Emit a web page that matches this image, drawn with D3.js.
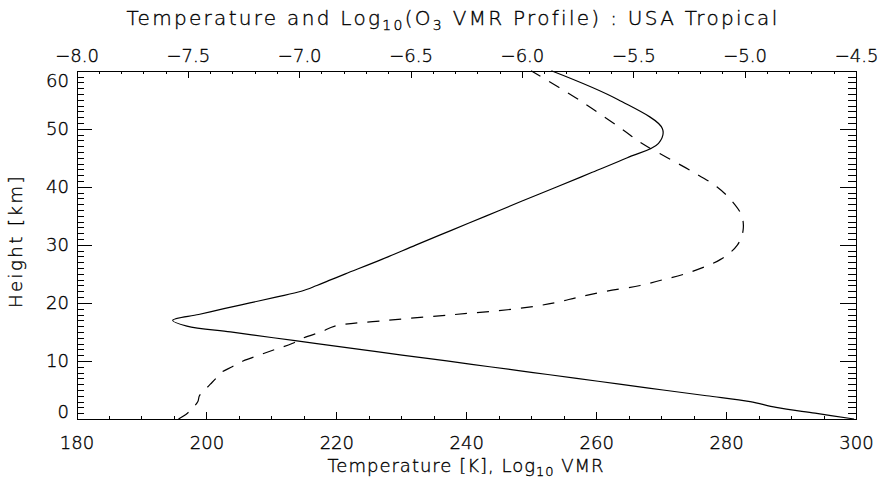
<!DOCTYPE html>
<html>
<head>
<meta charset="utf-8">
<script src="https://cdn.jsdelivr.net/npm/d3@7/dist/d3.min.js"></script>
<style>
  html, body { margin: 0; padding: 0; background: #fff; }
  svg { display: block; }
  text { font-family: "DejaVu Sans", sans-serif; fill: #000; font-weight: 200; stroke: #000; stroke-width: 0.35px; }
</style>
</head>
<body>
<svg id="chart" width="880" height="485"></svg>
<script>
// ---- Data (USA Tropical profile) ----
const heights = [0,1,2,3,4,5,6,7,8,9,10,11,12,13,14,15,16,17,18,19,20,21,22,23,24,25,
                 27.5,30,32.5,35,37.5,40,42.5,45,47.5,50,55,60];
const temperature = [299.7,293.7,287.7,283.7,277.0,270.3,263.6,257.0,250.3,243.6,237.0,230.1,
                     223.6,217.0,210.3,203.7,197.0,194.8,198.8,202.7,206.7,210.7,214.6,217.0,
                     219.2,221.4,227.0,232.3,237.7,243.1,248.5,254.0,259.4,264.8,269.6,270.2,
                     263.4,253.1];
const o3LogVmr = [-7.542,-7.502,-7.476,-7.455,-7.448,-7.424,-7.399,-7.374,-7.350,-7.301,-7.252,
                  -7.180,-7.107,-7.032,-6.979,-6.901,-6.840,-6.602,-6.301,-6.022,-5.854,-5.745,
                  -5.620,-5.469,-5.367,-5.268,-5.108,-5.032,-5.007,-5.013,-5.056,-5.125,-5.229,
                  -5.347,-5.462,-5.553,-5.745,-5.959];
const tempTicks = [180,200,220,240,260,280,300];
const vmrTicks = [-8.0,-7.5,-7.0,-6.5,-6.0,-5.5,-5.0,-4.5];
const heightTicks = [0,10,20,30,40,50,60];

// ---- Layout ----
const L = 76.5, R = 856, T = 70.7, B = 419;
const svg = d3.select("#chart");

const xT = d3.scaleLinear().domain([180, 300]).range([L, R]);
const xO = d3.scaleLinear().domain([-8.0, -4.5]).range([L, R]);
const y = d3.scaleLinear().domain([0, 60]).range([B, T]);

const fmtMinus = s => s.replace("-", "\u2212");

function styleAxis(g) {
  g.selectAll("path, line").attr("stroke", "#000").attr("stroke-width", 1).attr("shape-rendering", "crispEdges");
  g.selectAll("text").attr("font-size", 18).attr("font-family", "DejaVu Sans, sans-serif")
    .attr("font-weight", 200).attr("fill", "#000");
}

// minor ticks
const minorT = d3.range(180, 300.01, 5);
const minorO = d3.range(-8.0, -4.49, 0.1).map(v => Math.round(v * 10) / 10);
const minorH = d3.range(0, 60.01, 1);

// bottom
svg.append("g").attr("transform", `translate(0,${B})`)
  .call(d3.axisBottom(xT).tickValues(minorT).tickSize(-3.5).tickSizeOuter(0).tickFormat(""))
  .call(styleAxis);
svg.append("g").attr("transform", `translate(0,${B})`)
  .call(d3.axisBottom(xT).tickValues(tempTicks).tickSize(-7).tickSizeOuter(0).tickPadding(17).tickFormat(d3.format("d")))
  .call(styleAxis);

// top
svg.append("g").attr("transform", `translate(0,${T})`)
  .call(d3.axisTop(xO).tickValues(minorO).tickSize(-3.5).tickSizeOuter(0).tickFormat(""))
  .call(styleAxis);
svg.append("g").attr("transform", `translate(0,${T})`)
  .call(d3.axisTop(xO).tickValues(vmrTicks).tickSize(-7).tickSizeOuter(0).tickPadding(8.5)
        .tickFormat(d => fmtMinus(d3.format(".1f")(d))))
  .call(styleAxis);

// left
svg.append("g").attr("transform", `translate(${L},0)`)
  .call(d3.axisLeft(y).tickValues(minorH).tickSize(-7.8).tickSizeOuter(0).tickFormat(""))
  .call(styleAxis);
const leftAxis = svg.append("g").attr("transform", `translate(${L},0)`)
  .call(d3.axisLeft(y).tickValues(heightTicks).tickSize(-15.6).tickSizeOuter(0).tickPadding(7.5).tickFormat(d3.format("d")))
  .call(styleAxis);
// end labels sit slightly inside the frame
leftAxis.selectAll(".tick").filter(d => d === 0).select("text").attr("y", -7);
leftAxis.selectAll(".tick").filter(d => d === 60).select("text").attr("y", 10);

// right
svg.append("g").attr("transform", `translate(${R},0)`)
  .call(d3.axisRight(y).tickValues(minorH).tickSize(-7.8).tickSizeOuter(0).tickFormat(""))
  .call(styleAxis);
svg.append("g").attr("transform", `translate(${R},0)`)
  .call(d3.axisRight(y).tickValues(heightTicks).tickSize(-15.6).tickSizeOuter(0).tickFormat(""))
  .call(styleAxis);

// ---- Lines ----
const tempData = heights.map((h, i) => ({ h, v: temperature[i] }));
const o3Data = heights.map((h, i) => ({ h, v: o3LogVmr[i] }));

svg.append("path").datum(tempData)
  .attr("fill", "none").attr("stroke", "#000").attr("stroke-width", 1.2)
  .attr("d", d3.line().x(d => xT(d.v)).y(d => y(d.h)).curve(d3.curveCatmullRom.alpha(0.5)));

svg.append("path").datum(o3Data)
  .attr("fill", "none").attr("stroke", "#000").attr("stroke-width", 1.2)
  .attr("stroke-dasharray", "12,10")
  .attr("d", d3.line().x(d => xO(d.v)).y(d => y(d.h)).curve(d3.curveCatmullRom.alpha(0.5)));

// ---- Titles ----
const title = svg.append("text").attr("x", 453).attr("y", 25).attr("text-anchor", "middle")
  .attr("font-size", 20).attr("letter-spacing", 2.3);
title.append("tspan").text("Temperature and Log");
title.append("tspan").attr("font-size", 14).attr("dy", 5).text("10");
title.append("tspan").attr("dy", -5).text("(O");
title.append("tspan").attr("font-size", 14).attr("dy", 5).text("3");
title.append("tspan").attr("dy", -5).text(" VMR Profile) : USA Tropical");

const xt = svg.append("text").attr("x", 466).attr("y", 472).attr("text-anchor", "middle")
  .attr("font-size", 18).attr("letter-spacing", 1);
xt.append("tspan").text("Temperature [K], Log");
xt.append("tspan").attr("font-size", 13).attr("dy", 4).text("10");
xt.append("tspan").attr("dy", -4).text(" VMR");

svg.append("text").attr("transform", "translate(22,241) rotate(-90)")
  .attr("text-anchor", "middle").attr("font-size", 18).attr("letter-spacing", 2.5).text("Height [km]");
</script>
</body>
</html>
